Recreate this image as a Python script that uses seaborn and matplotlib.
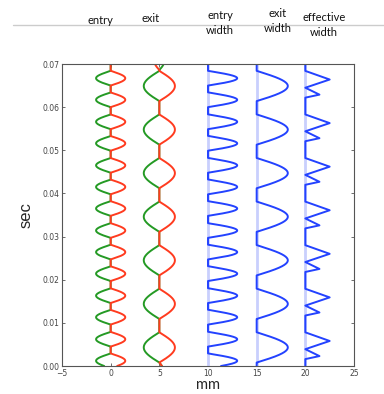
import numpy as np
import matplotlib
matplotlib.use('Agg')
import matplotlib.pyplot as plt
import seaborn as sns

# lens centres (sec), half lengths (sec) and edge excursions (mm)
entry_centers = [0.0012, 0.0062, 0.0113, 0.0163, 0.0214, 0.0264, 0.0314,
                 0.0365, 0.0415, 0.0465, 0.0516, 0.0566, 0.0617, 0.0667, 0.0718]
entry_half = [0.0017] * len(entry_centers)
entry_red_amp = [1.5] * len(entry_centers)
entry_green_amp = [-1.5] * len(entry_centers)

exit_centers = [-0.0012, 0.0043, 0.0144, 0.0245, 0.0346, 0.0447, 0.0548, 0.0649, 0.0706]
exit_half = [0.0020, 0.0035, 0.0035, 0.0035, 0.0035, 0.0035, 0.0035, 0.0035, 0.0020]
exit_red_amp = [0.45, 1.6, 1.6, 1.6, 1.6, 1.6, 1.6, 1.6, -0.5]
exit_green_amp = [0.45, -1.6, -1.6, -1.6, -1.6, -1.6, -1.6, -1.6, 0.5]

# effective width vertices (sec, mm)
eff_t = [0.0,
         0.0016, 0.0023, 0.0039, 0.0058, 0.0078,
         0.0117, 0.0124, 0.0140, 0.0159, 0.0179,
         0.0218, 0.0225, 0.0241, 0.0260, 0.0280,
         0.0319, 0.0326, 0.0342, 0.0361, 0.0381,
         0.0420, 0.0427, 0.0443, 0.0462, 0.0482,
         0.0521, 0.0528, 0.0544, 0.0563, 0.0583,
         0.0622, 0.0629, 0.0645, 0.0664, 0.0684,
         0.0705]
eff_w = [0.0,
         0.0, 1.45, 0.0, 2.5, 0.0,
         0.0, 1.45, 0.0, 2.5, 0.0,
         0.0, 1.45, 0.0, 2.5, 0.0,
         0.0, 1.45, 0.0, 2.5, 0.0,
         0.0, 1.45, 0.0, 2.5, 0.0,
         0.0, 1.45, 0.0, 2.5, 0.0,
         0.0, 1.45, 0.0, 2.5, 0.0,
         0.0]

offsets = [0, 5, 10, 15, 20]
headers = ['entry', 'exit', 'entry\nwidth', 'exit\nwidth', 'effective\nwidth']
header_xy = [(100, 20), (151, 19), (220, 23), (278, 21), (324, 25)]

RED = '#ff3b1f'
GREEN = '#249a24'
BLUE = '#2342ff'
GUIDE = '#c9cffd'


def lens_edge(t, centers, halves, amps):
    out = np.zeros_like(t)
    for c, h, a in zip(centers, halves, amps):
        m = np.abs(t - c) < h
        out[m] = a * np.sin(np.pi * (t[m] - c + h) / (2 * h))
    return out


sns.set_style('white')
plt.rcParams.update({
    'xtick.direction': 'in', 'ytick.direction': 'in',
    'xtick.top': True, 'ytick.right': True,
    'xtick.bottom': True, 'ytick.left': True,
    'xtick.major.size': 2.5, 'ytick.major.size': 2.5,
    'xtick.major.width': 0.6, 'ytick.major.width': 0.6,
    'xtick.color': '#555555', 'ytick.color': '#555555',
})

t = np.linspace(0, 0.0705, 4000)
en_red = lens_edge(t, entry_centers, entry_half, entry_red_amp)
en_green = lens_edge(t, entry_centers, entry_half, entry_green_amp)
ex_red = lens_edge(t, exit_centers, exit_half, exit_red_amp)
ex_green = lens_edge(t, exit_centers, exit_half, exit_green_amp)
en_width = np.maximum(en_red - en_green, 0)
ex_width = np.maximum(ex_red - ex_green, 0)

fig = plt.figure(figsize=(3.84, 3.94), dpi=100)
ax = fig.add_axes([62 / 384, 28 / 394, 292 / 384, 302 / 394])

for x0 in offsets[2:]:
    ax.axvline(x0, color=GUIDE, lw=2, zorder=1)

kw = dict(orient='y', sort=False, estimator=None, lw=1.4, ax=ax)
sns.lineplot(x=offsets[0] + en_green, y=t, color=GREEN, **kw)
sns.lineplot(x=offsets[0] + en_red, y=t, color=RED, **kw)
sns.lineplot(x=offsets[1] + ex_green, y=t, color=GREEN, **kw)
sns.lineplot(x=offsets[1] + ex_red, y=t, color=RED, **kw)
sns.lineplot(x=offsets[2] + en_width, y=t, color=BLUE, **kw)
sns.lineplot(x=offsets[3] + ex_width, y=t, color=BLUE, **kw)
sns.lineplot(x=offsets[4] + np.array(eff_w), y=np.array(eff_t), color=BLUE, **kw)

ax.set_xlim(-5, 25)
ax.set_ylim(0, 0.07)
ax.set_xticks(range(-5, 26, 5))
ax.set_yticks(np.arange(0, 0.0701, 0.01))
ax.yaxis.set_major_formatter(matplotlib.ticker.FormatStrFormatter('%.2f'))
ax.tick_params(labelsize=5.5, labelcolor='#444444', pad=2)
for s in ax.spines.values():
    s.set_color('#555555')
    s.set_linewidth(0.8)

ax.set_ylabel('sec', fontsize=12, family='Liberation Sans', labelpad=6)
ax.set_xlabel('mm', fontsize=10.5, family='Lato', labelpad=0)

fig.add_artist(plt.Line2D([13 / 384, 1], [1 - 25 / 394, 1 - 25 / 394],
                          color='#cccccc', lw=1))
for txt, (px, py) in zip(headers, header_xy):
    fig.text(px / 384, 1 - py / 394, txt, ha='center', va='center',
             family='Lato', fontsize=8, color='#111111', linespacing=1.55)

fig.savefig('out.png', dpi=100)
